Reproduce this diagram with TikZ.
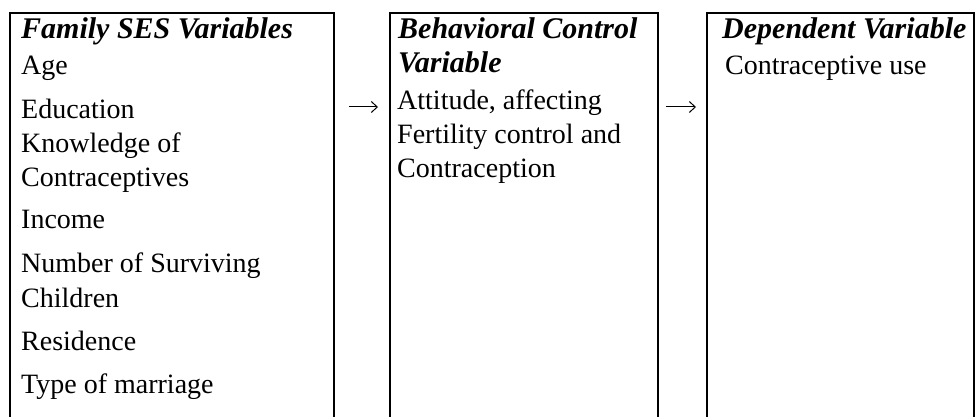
\documentclass[tikz,border=0pt]{standalone}
\usepackage{fontspec}
\setmainfont{Liberation Serif}
\usetikzlibrary{arrows.meta}
\begin{document}
\begin{tikzpicture}[x=1pt,y=-1pt,
  frame/.style={draw=none,rectangle,inner sep=0pt,outer sep=0pt},
  side/.style={line width=1.4pt,black},
  ttl/.style={anchor=base west,inner sep=0pt,font=\fontsize{30}{34}\selectfont\bfseries\itshape},
  body/.style={anchor=base west,inner sep=0pt,font=\fontsize{28}{33}\selectfont},
  arr/.style={line width=1pt,-{Straight Barb[length=6pt,width=11pt,line width=1pt]}}]
\useasboundingbox (0,0) rectangle (976,417);
% box frames (open at the bottom)
\node[frame,minimum width=324pt,minimum height=410pt] (b1) at (172,218) {};
\node[frame,minimum width=268pt,minimum height=410pt] (b2) at (524,218) {};
\node[frame,minimum width=267pt,minimum height=410pt] (b3) at (840.5,218) {};
\foreach \b in {b1,b2,b3}{
  \draw[side] (\b.south west) -- (\b.north west) -- (\b.north east) -- (\b.south east);
}
% box 1
\node[ttl]  (t1)  at (21,39)  {Family SES Variables};
\node[body] (a1)  at (21,75)  {Age};
\node[body] (a2)  at (21,118) {Education};
\node[body] (a3)  at (21,152) {Knowledge of};
\node[body] (a3b) at (21,186) {Contraceptives};
\node[body] (a4)  at (21,228) {Income};
\node[body] (a5)  at (21,272) {Number of Surviving};
\node[body] (a5b) at (21,307) {Children};
\node[body] (a6)  at (21,350) {Residence};
\node[body] (a7)  at (21,393) {Type of marriage};
% box 2
\node[ttl]  (t2)  at (398,39)  {Behavioral Control};
\node[ttl]  (t2b) at (398,73)  {Variable};
\node[body] (c1)  at (397,110) {Attitude, affecting};
\node[body] (c1b) at (397,143) {Fertility control and};
\node[body] (c1c) at (397,177) {Contraception};
% box 3
\node[ttl]  (t3)  at (722,39) {Dependent Variable};
\node[body] (d1)  at (725,75) {Contraceptive use};
% arrows
\coordinate (ay) at (0,107);
\draw[arr,shorten <=15pt,shorten >=12pt] (b1.east |- ay) -- (b2.west |- ay);
\draw[arr,shorten <=8pt,shorten >=11pt] (b2.east |- ay) -- (b3.west |- ay);
\end{tikzpicture}
\end{document}
